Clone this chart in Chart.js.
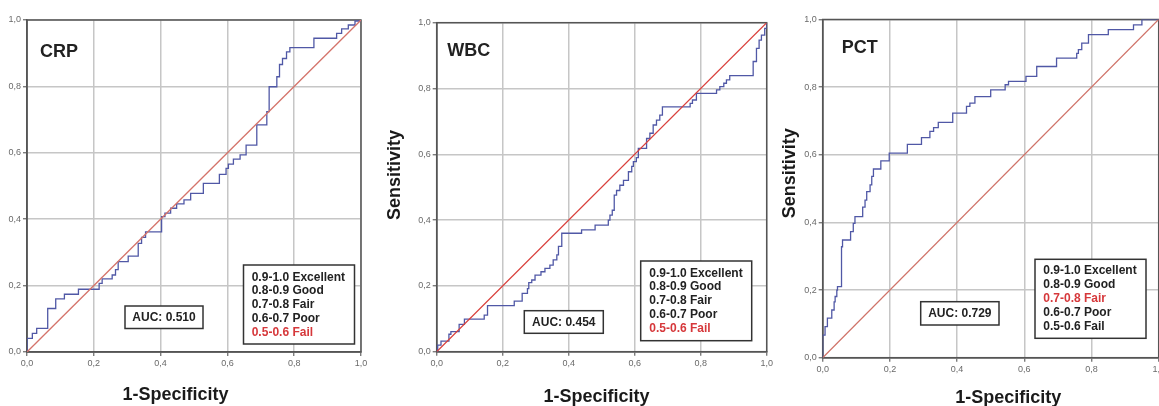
<!DOCTYPE html>
<html>
<head>
<meta charset="utf-8">
<script src="https://cdn.jsdelivr.net/npm/chart.js@4.4.0/dist/chart.umd.min.js"></script>
<style>
  html, body { margin: 0; padding: 0; background: #fff; }
  #wrap { position: relative; width: 1159px; height: 406px; overflow: hidden; background: #fff; }
  canvas { position: absolute; top: 0; }
</style>
</head>
<body>
<div id="wrap">
  <canvas id="crp" width="385" height="406" style="left:0px"></canvas>
  <canvas id="wbc" width="390" height="406" style="left:385px"></canvas>
  <canvas id="pct" width="384" height="406" style="left:775px"></canvas>
</div>
<script>
// ROC points: each point is where the curve rises (x = 1-specificity, y = sensitivity)
var crpFpr = [0, 0, 0.016, 0.029, 0.062, 0.086, 0.112, 0.154, 0.216, 0.225, 0.255, 0.265, 0.273, 0.303, 0.333, 0.343, 0.355, 0.403, 0.413, 0.43,
              0.448, 0.47, 0.49, 0.528, 0.576, 0.596, 0.603, 0.618, 0.638, 0.656, 0.688, 0.718, 0.725, 0.748, 0.756, 0.765, 0.777, 0.787, 0.859, 0.927,
              0.942, 0.962, 0.982, 1];
var crpTpr = [0, 0.041, 0.056, 0.071, 0.131, 0.160, 0.174, 0.189, 0.207, 0.22, 0.232, 0.248, 0.272, 0.289, 0.327, 0.345, 0.362, 0.408, 0.418, 0.433,
              0.446, 0.458, 0.478, 0.508, 0.535, 0.553, 0.566, 0.581, 0.594, 0.623, 0.684, 0.724, 0.799, 0.829, 0.866, 0.884, 0.904, 0.917, 0.945, 0.96,
              0.973, 0.985, 0.997, 1];

var wbcFpr = [0, 0.003, 0.013, 0.037, 0.043, 0.068, 0.084, 0.144, 0.154, 0.235, 0.259, 0.275, 0.279, 0.288, 0.298, 0.316, 0.328, 0.343, 0.353, 0.364,
              0.369, 0.379, 0.439, 0.48, 0.52, 0.525, 0.532, 0.538, 0.545, 0.555, 0.566, 0.581, 0.591, 0.596, 0.605, 0.611, 0.636, 0.646, 0.656, 0.666,
              0.676, 0.684, 0.768, 0.775, 0.787, 0.848, 0.858, 0.87, 0.878, 0.888, 0.959, 0.969, 0.977, 0.984, 0.994, 1];
var wbcTpr = [0, 0.020, 0.032, 0.053, 0.061, 0.083, 0.099, 0.111, 0.14, 0.154, 0.177, 0.192, 0.21, 0.218, 0.233, 0.243, 0.253, 0.263, 0.279, 0.294,
              0.32, 0.36, 0.37, 0.385, 0.40, 0.415, 0.43, 0.476, 0.49, 0.506, 0.521, 0.547, 0.563, 0.578, 0.59, 0.618, 0.648, 0.664, 0.689, 0.704,
              0.719, 0.744, 0.755, 0.765, 0.785, 0.796, 0.806, 0.816, 0.826, 0.839, 0.882, 0.922, 0.947, 0.962, 0.983, 1];

var pctFpr = [0, 0, 0.007, 0.014, 0.027, 0.034, 0.037, 0.042, 0.044, 0.056, 0.059, 0.083, 0.091, 0.096, 0.119, 0.126, 0.131, 0.141, 0.146, 0.151,
              0.173, 0.198, 0.252, 0.294, 0.319, 0.33, 0.344, 0.387, 0.428, 0.438, 0.453, 0.5, 0.543, 0.553, 0.605, 0.637, 0.696, 0.756, 0.761, 0.771,
              0.791, 0.85, 0.925, 0.95, 1];
var pctTpr = [0, 0.067, 0.092, 0.117, 0.141, 0.165, 0.181, 0.2, 0.21, 0.328, 0.348, 0.373, 0.397, 0.417, 0.445, 0.466, 0.491, 0.511, 0.536, 0.558,
              0.582, 0.605, 0.631, 0.651, 0.669, 0.68, 0.696, 0.723, 0.743, 0.753, 0.772, 0.792, 0.807, 0.817, 0.832, 0.861, 0.886, 0.9, 0.911, 0.93,
              0.955, 0.97, 0.984, 1, 1];

var refLine = [0, 1];
var panelNames = ["CRP", "WBC", "PCT"];
var aucValues = ["0.510", "0.454", "0.729"];
var gradeLabels = ["0.9-1.0 Excellent", "0.8-0.9 Good", "0.7-0.8 Fair", "0.6-0.7 Poor", "0.5-0.6 Fail"];
var gradeHit = [4, 4, 2];
var xTitle = "1-Specificity";
var yTitle = "Sensitivity";

var FONT = "'Liberation Sans', Arial, sans-serif";
var H = 406;
var Y_AXIS_W = 24;

// where things sit on each canvas (canvas px)
var layouts = [
  { w: 385, area: [27, 20, 361, 352], name: [40, 56.5], auc: [125, 306, 78, 22.5],
    legend: [243.5, 265, 111, 79], legendText: [251.7, 280.5], yT: null, xT: [175.5, 400], diag: "#d4736a" },
  { w: 390, area: [51.7, 22.7, 381.7, 351.7], name: [62.3, 56], auc: [139.3, 310.7, 79, 22.6],
    legend: [255.7, 261, 111, 79.7], legendText: [264.3, 276.5], yT: [10.5, 175], xT: [211.5, 401.5], diag: "#d9403c" },
  { w: 384, area: [47.7, 19.5, 383.7, 357.7], name: [66.7, 52.7], auc: [145.7, 301.7, 78.3, 23.3],
    legend: [260, 259.3, 111, 79], legendText: [268.3, 274.3], yT: [15, 173.3], xT: [233.3, 403], diag: "#cf7268" }
];

var panelDeco = {
  id: "panelDeco",
  beforeDatasetsDraw: function (chart, args, o) {
    var a = chart.chartArea, ctx = chart.ctx;
    ctx.save();
    ctx.strokeStyle = "#555";
    ctx.lineWidth = 1.5;
    ctx.strokeRect(a.left, a.top, a.right - a.left, a.bottom - a.top);
    ctx.restore();
  },
  afterDraw: function (chart, args, o) {
    var ctx = chart.ctx, L = o.lay;
    ctx.save();
    ctx.fillStyle = "#222";
    ctx.textBaseline = "alphabetic";

    // panel name
    ctx.font = "bold 18px " + FONT;
    ctx.textAlign = "left";
    ctx.fillText(o.name, L.name[0], L.name[1]);

    // AUC box
    ctx.fillStyle = "#fff";
    ctx.fillRect(L.auc[0], L.auc[1], L.auc[2], L.auc[3]);
    ctx.strokeStyle = "#333";
    ctx.lineWidth = 1.5;
    ctx.strokeRect(L.auc[0], L.auc[1], L.auc[2], L.auc[3]);
    ctx.fillStyle = "#222";
    ctx.font = "bold 12px " + FONT;
    ctx.textAlign = "center";
    ctx.textBaseline = "middle";
    ctx.fillText("AUC: " + o.auc, L.auc[0] + L.auc[2] / 2, L.auc[1] + L.auc[3] / 2 + 0.5);

    // grade legend box
    ctx.fillStyle = "#fff";
    ctx.fillRect(L.legend[0], L.legend[1], L.legend[2], L.legend[3]);
    ctx.strokeRect(L.legend[0], L.legend[1], L.legend[2], L.legend[3]);
    ctx.textAlign = "left";
    ctx.textBaseline = "alphabetic";
    gradeLabels.forEach(function (t, i) {
      ctx.fillStyle = i === o.hit ? "#d6383b" : "#222";
      ctx.fillText(t, L.legendText[0], L.legendText[1] + i * 13.8);
    });

    // axis titles
    ctx.fillStyle = "#1a1a1a";
    ctx.font = "bold 18px " + FONT;
    ctx.textAlign = "center";
    ctx.fillText(xTitle, L.xT[0], L.xT[1]);
    if (L.yT) {
      ctx.translate(L.yT[0], L.yT[1]);
      ctx.rotate(-Math.PI / 2);
      ctx.textBaseline = "middle";
      ctx.fillText(yTitle, 0, 0);
    }
    ctx.restore();
  }
};

function tickText(v) {
  return v.toFixed(1).replace(".", ",");
}

function makeRoc(id, fpr, tpr, idx) {
  var lay = layouts[idx];
  var curve = fpr.map(function (x, i) { return { x: x, y: tpr[i] }; });
  var diag = refLine.map(function (v) { return { x: v, y: v }; });
  var axisBits = {
    type: "linear",
    min: 0,
    max: 1,
    ticks: { stepSize: 0.2, color: "#6a6a6a", padding: 2, maxRotation: 0, font: { family: FONT, size: 9 }, callback: tickText },
    grid: { color: "#c6c6c6", lineWidth: 1.5, tickLength: 4, tickColor: "#666", tickWidth: 1.2 },
    border: { color: "#555", width: 1.5 }
  };
  return new Chart(document.getElementById(id), {
    type: "line",
    data: {
      datasets: [
        { data: diag, borderColor: lay.diag, borderWidth: 1.3, pointRadius: 0 },
        { data: curve, borderColor: "#5058a6", borderWidth: 1.3, pointRadius: 0, stepped: "before" }
      ]
    },
    options: {
      responsive: false,
      animation: false,
      devicePixelRatio: 1,
      layout: { padding: { left: lay.area[0] - Y_AXIS_W, top: lay.area[1], right: lay.w - lay.area[2], bottom: 0 } },
      plugins: {
        legend: { display: false },
        tooltip: { enabled: false },
        panelDeco: { lay: lay, name: panelNames[idx], auc: aucValues[idx], hit: gradeHit[idx] }
      },
      scales: {
        x: Object.assign({}, axisBits, {
          position: "bottom",
          afterFit: function (s) { s.height = H - lay.area[3]; s.paddingLeft = 0; s.paddingRight = 0; }
        }),
        y: Object.assign({}, axisBits, {
          position: "left",
          afterFit: function (s) { s.width = Y_AXIS_W; s.paddingTop = 0; s.paddingBottom = 0; }
        })
      }
    },
    plugins: [panelDeco]
  });
}

makeRoc("crp", crpFpr, crpTpr, 0);
makeRoc("wbc", wbcFpr, wbcTpr, 1);
makeRoc("pct", pctFpr, pctTpr, 2);
</script>
</body>
</html>
